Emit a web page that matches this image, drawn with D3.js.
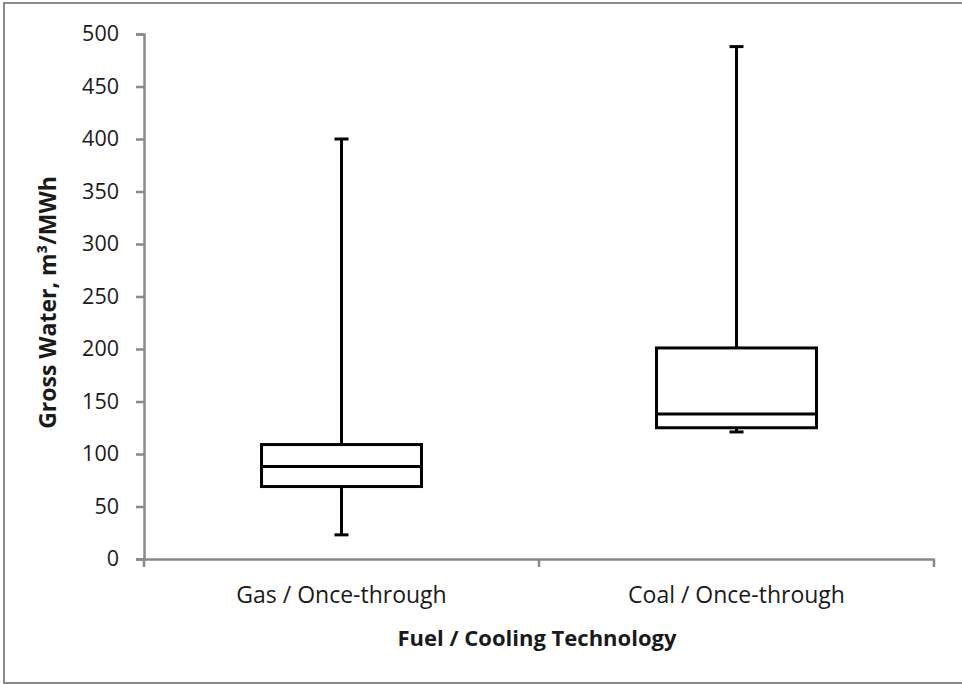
<!DOCTYPE html>
<html>
<head>
<meta charset="utf-8">
<script src="https://cdn.jsdelivr.net/npm/d3@7"></script>
<style>
  body { margin: 0; background: #fff; }
  svg, svg text { font-family: "Open Sans", sans-serif; }
</style>
</head>
<body>
<div id="chart"></div>
<script>
// box plot values (m3/MWh)
var categories = ["Gas / Once-through", "Coal / Once-through"];
var minVals    = [23, 121];
var q1Vals     = [69, 125];
var medianVals = [88, 138];
var q3Vals     = [109, 201];
var maxVals    = [400, 488];
var yTicks     = [0, 50, 100, 150, 200, 250, 300, 350, 400, 450, 500];

var W = 962, H = 684;
var mLeft = 144, mRight = 934, mTop = 34, mBottom = 559;

var svg = d3.select("#chart").append("svg")
    .attr("width", W)
    .attr("height", H);

// outer frame
svg.append("rect")
    .attr("x", 4).attr("y", 3)
    .attr("width", W + 10).attr("height", 680)
    .attr("fill", "#fff")
    .attr("stroke", "#898989")
    .attr("stroke-width", 2);

var y = d3.scaleLinear().domain([0, 500]).range([mBottom, mTop]);
var x = d3.scaleBand().domain(categories).range([mLeft, mRight]).padding(0);

var axisColor = "#898989";

// y axis
var yAxis = svg.append("g")
    .attr("transform", "translate(" + mLeft + ",0)")
    .call(d3.axisLeft(y).tickValues(yTicks).tickSize(8).tickPadding(17));
yAxis.attr("font-family", null);
yAxis.select(".domain").attr("stroke", axisColor).attr("stroke-width", 2.5);
yAxis.selectAll(".tick line").attr("stroke", axisColor).attr("stroke-width", 2.5);
yAxis.selectAll(".tick text")
    .attr("fill", "#1a1a1a")
    .style("font-size", "21.5px");

// x axis - labels centred in bands, ticks on band edges
var xAxis = svg.append("g")
    .attr("transform", "translate(0," + mBottom + ")")
    .call(d3.axisBottom(x).tickSize(0).tickPadding(28).tickSizeOuter(0));
xAxis.attr("font-family", null);
xAxis.select(".domain").attr("stroke", axisColor).attr("stroke-width", 2.5);
xAxis.selectAll(".tick text")
    .attr("fill", "#1a1a1a")
    .style("font-size", "23px");

var edges = d3.range(categories.length + 1).map(function(i){ return mLeft + i * x.step(); });
xAxis.selectAll(".edge")
    .data(edges)
    .enter().append("line")
    .attr("class", "edge")
    .attr("x1", function(d){ return d; })
    .attr("x2", function(d){ return d; })
    .attr("y1", 0).attr("y2", 8)
    .attr("stroke", axisColor)
    .attr("stroke-width", 2.5);

// boxes
var boxW = x.bandwidth() * 0.405;
var capW = 14;
var rows = categories.map(function(c, i){
    return {cat: c, min: minVals[i], q1: q1Vals[i], med: medianVals[i], q3: q3Vals[i], max: maxVals[i]};
});

var g = svg.selectAll(".box").data(rows).enter().append("g").attr("class", "box");

function cx(d){ return x(d.cat) + x.bandwidth() / 2; }

// whiskers
g.append("line")
    .attr("x1", cx).attr("x2", cx)
    .attr("y1", function(d){ return y(d.max); })
    .attr("y2", function(d){ return y(d.q3); })
    .attr("stroke", "#000").attr("stroke-width", 3);
g.append("line")
    .attr("x1", cx).attr("x2", cx)
    .attr("y1", function(d){ return y(d.q1); })
    .attr("y2", function(d){ return y(d.min); })
    .attr("stroke", "#000").attr("stroke-width", 3);
// caps
["max", "min"].forEach(function(k){
    g.append("line")
        .attr("x1", function(d){ return cx(d) - capW / 2; })
        .attr("x2", function(d){ return cx(d) + capW / 2; })
        .attr("y1", function(d){ return y(d[k]); })
        .attr("y2", function(d){ return y(d[k]); })
        .attr("stroke", "#000").attr("stroke-width", 3);
});
// box
g.append("rect")
    .attr("x", function(d){ return cx(d) - boxW / 2; })
    .attr("y", function(d){ return y(d.q3); })
    .attr("width", boxW)
    .attr("height", function(d){ return y(d.q1) - y(d.q3); })
    .attr("fill", "#fff")
    .attr("stroke", "#000").attr("stroke-width", 3);
// median
g.append("line")
    .attr("x1", function(d){ return cx(d) - boxW / 2; })
    .attr("x2", function(d){ return cx(d) + boxW / 2; })
    .attr("y1", function(d){ return y(d.med); })
    .attr("y2", function(d){ return y(d.med); })
    .attr("stroke", "#000").attr("stroke-width", 3);

// axis titles
svg.append("text")
    .attr("x", (mLeft + mRight) / 2 - 2)
    .attr("y", 646)
    .attr("text-anchor", "middle")
    .attr("font-weight", "bold")
    .attr("fill", "#1a1a1a")
    .style("font-size", "22px")
    .text("Fuel / Cooling Technology");

svg.append("text")
    .attr("transform", "translate(56," + ((mTop + mBottom) / 2 + 6) + ") rotate(-90)")
    .attr("text-anchor", "middle")
    .attr("font-weight", "bold")
    .attr("fill", "#1a1a1a")
    .style("font-size", "23px")
    .text("Gross Water, m\u00b3/MWh");
</script>
</body>
</html>
